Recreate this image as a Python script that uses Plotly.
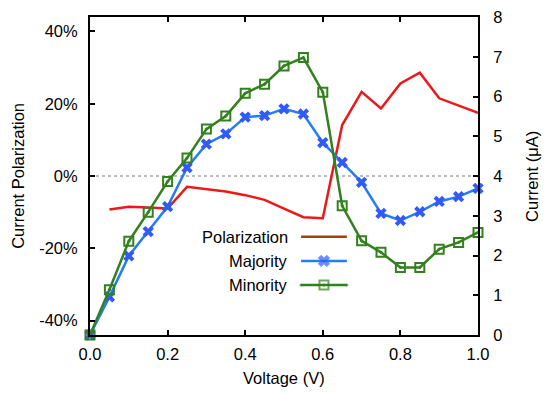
import plotly.graph_objects as go

voltage = [0.0, 0.05, 0.1, 0.15, 0.2, 0.25, 0.3, 0.35, 0.4, 0.45, 0.5,
           0.55, 0.6, 0.65, 0.7, 0.75, 0.8, 0.85, 0.9, 0.95, 1.0]
majority = [0.0, 0.96, 1.99, 2.60, 3.23, 4.21, 4.80, 5.06, 5.48, 5.52, 5.69,
            5.56, 4.84, 4.34, 3.84, 3.06, 2.88, 3.10, 3.36, 3.48, 3.69]
minority = [0.0, 1.14, 2.36, 3.09, 3.86, 4.45, 5.18, 5.51, 6.08, 6.31, 6.77,
            6.98, 6.11, 3.25, 2.37, 2.08, 1.70, 1.70, 2.16, 2.33, 2.58]
pol_voltage = voltage[1:]
polarization = [-9.3, -8.5, -8.7, -9.0, -3.0, -3.6, -4.3, -5.3, -6.6, -9.0,
                -11.4, -11.7, 14.1, 23.3, 18.7, 25.6, 28.6, 21.5, 19.5, 17.5]

left_ticks = [-40, -20, 0, 20, 40]
left_labels = ["-40%", "-20%", "0%", "20%", "40%"]
right_ticks = [0, 1, 2, 3, 4, 5, 6, 7, 8]
x_ticks = [0.0, 0.2, 0.4, 0.6, 0.8, 1.0]

legend_names = ["Polarization", "Majority", "Minority"]

RED = "rgb(235,25,25)"
BROWN = "rgb(160,65,20)"
BLUE = "rgb(35,125,245)"
BLUE_M = "rgb(50,90,245)"
GREEN = "rgb(50,128,30)"
FONT = "Liberation Sans, Arial, sans-serif"
FS = 16.5

fig = go.Figure()

fig.add_trace(go.Scatter(x=pol_voltage, y=polarization, mode="lines",
                         line=dict(color=RED, width=2.5), yaxis="y",
                         showlegend=False))
fig.add_trace(go.Scatter(x=voltage, y=majority, mode="lines+markers",
                         line=dict(color=BLUE, width=2.5),
                         marker=dict(symbol="x", size=10, color=BLUE_M),
                         yaxis="y2", cliponaxis=False, showlegend=False))
fig.add_trace(go.Scatter(x=voltage, y=minority, mode="lines+markers",
                         line=dict(color=GREEN, width=2.5),
                         marker=dict(symbol="square-open-dot", size=9,
                                     color=GREEN, line=dict(width=2, color=GREEN)),
                         yaxis="y2", cliponaxis=False, showlegend=False))

# Legend (text left of sample, gnuplot style) on a hidden overlay axis
leg_y = [0.309, 0.233, 0.157]
leg_x0, leg_x1 = 0.544, 0.662
leg_xm = (leg_x0 + leg_x1) / 2
fig.add_trace(go.Scatter(x=[leg_x0, leg_x1], y=[leg_y[0]] * 2, mode="lines",
                         line=dict(color=BROWN, width=2.5),
                         xaxis="x3", yaxis="y3", hoverinfo="skip"))
fig.add_trace(go.Scatter(x=[leg_x0, leg_xm, leg_x1], y=[leg_y[1]] * 3,
                         mode="lines+markers", line=dict(color=BLUE, width=2.5),
                         marker=dict(symbol="x", size=[0, 10, 0], color=BLUE_M),
                         xaxis="x3", yaxis="y3", hoverinfo="skip"))
fig.add_trace(go.Scatter(x=[leg_x0, leg_xm, leg_x1], y=[leg_y[2]] * 3,
                         mode="lines+markers", line=dict(color=GREEN, width=2.5),
                         marker=dict(symbol="square-open-dot", size=[0, 9, 0],
                                     color=GREEN, line=dict(width=2, color=GREEN)),
                         xaxis="x3", yaxis="y3", hoverinfo="skip"))
for i, name in enumerate(legend_names):
    fig.add_annotation(x=0.515, y=leg_y[i], xref="paper", yref="paper",
                       text=name, showarrow=False, xanchor="right",
                       yanchor="middle", font=dict(size=FS, color="black", family=FONT))

# Axis titles
fig.add_annotation(x=-0.186, y=0.5, xref="paper", yref="paper", text="Current Polarization",
                   textangle=-90, showarrow=False, xanchor="center", yanchor="middle",
                   font=dict(size=FS, color="black", family=FONT))
fig.add_annotation(x=1.139, y=0.5, xref="paper", yref="paper", text="Current (μA)",
                   textangle=-90, showarrow=False, xanchor="center", yanchor="middle",
                   font=dict(size=FS, color="black", family=FONT))
fig.add_annotation(x=0.5, y=-0.135, xref="paper", yref="paper", text="Voltage (V)",
                   showarrow=False, xanchor="center", yanchor="middle",
                   font=dict(size=FS, color="black", family=FONT))

fig.add_shape(type="line", xref="x domain", x0=0, x1=1, yref="y", y0=0, y1=0,
              line=dict(color="rgb(120,120,120)", width=1, dash="dot"), layer="below")

axis_common = dict(showline=True, linecolor="black", linewidth=2, ticks="inside",
                   ticklen=5, tickwidth=2, tickcolor="black", showgrid=False,
                   zeroline=False, automargin=False, ticklabeloverflow="allow",
                   tickfont=dict(size=FS, color="black", family=FONT))

# The page body has an 8px default margin; the figure is sized to fit the window.
fig.update_layout(
    width=542, height=389,
    margin=dict(l=82, r=72, t=9, b=62),
    plot_bgcolor="white", paper_bgcolor="white",
    font=dict(family=FONT, color="black"),
    xaxis=dict(range=[0, 1], tickvals=x_ticks, tickformat=".1f", mirror="ticks",
               ticklabelstandoff=3, **axis_common),
    yaxis=dict(range=[-44, 44], tickvals=left_ticks, ticktext=left_labels,
               ticklabelstandoff=7, **axis_common),
    yaxis2=dict(range=[0, 8], tickvals=right_ticks, overlaying="y", side="right",
                ticklabelstandoff=10, **axis_common),
    xaxis3=dict(range=[0, 1], overlaying="x", visible=False),
    yaxis3=dict(range=[0, 1], overlaying="y", visible=False),
    showlegend=False,
)

fig.write_html("out.html")
